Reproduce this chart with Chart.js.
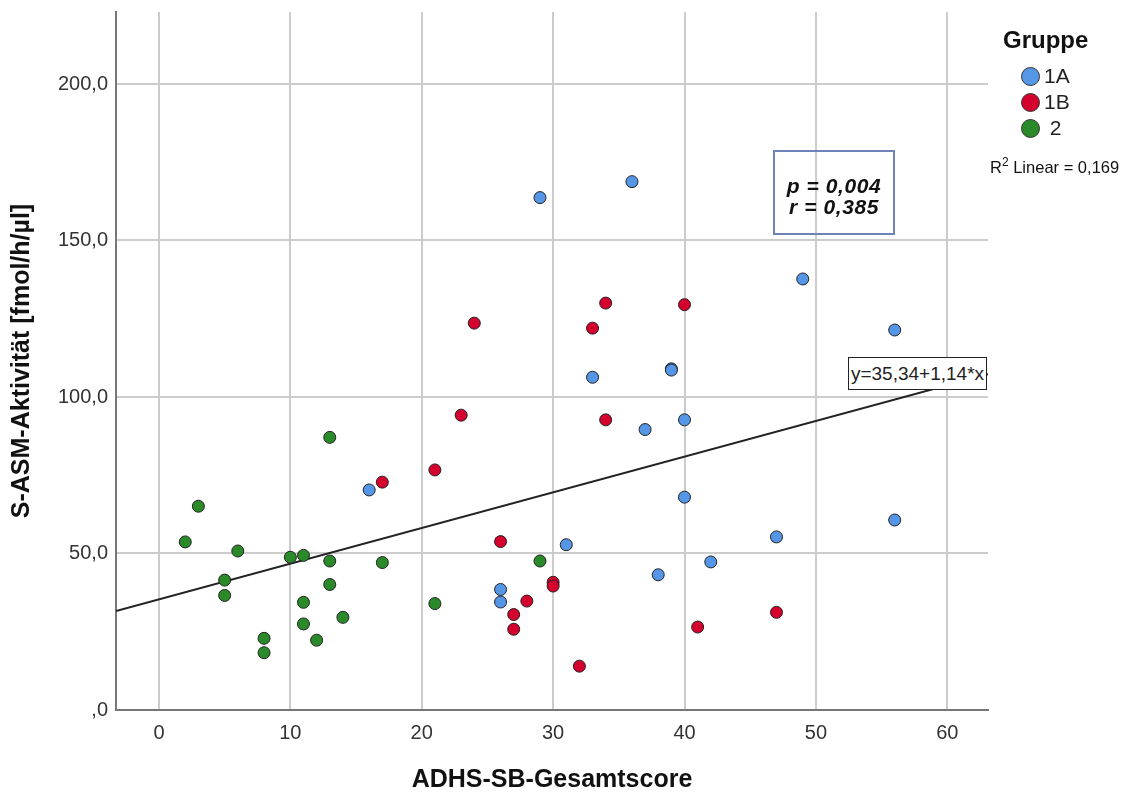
<!DOCTYPE html>
<html><head><meta charset="utf-8">
<script src="https://cdn.jsdelivr.net/npm/chart.js@4.4.1/dist/chart.umd.min.js"></script>
<style>
html,body{margin:0;padding:0;background:#fff;}
#wrap{position:relative;width:1131px;height:795px;overflow:hidden;font-family:"Liberation Sans",Arial,sans-serif;}
#c{position:absolute;left:0;top:0;}
.legtitle{position:absolute;left:1003px;top:26px;font-weight:bold;font-size:24px;color:#111;line-height:28px;}
.item{position:absolute;left:1021px;height:24px;font-size:21px;color:#222;display:flex;align-items:center;line-height:24px;}
.dot{width:19px;height:19px;border-radius:50%;border:1px solid #333;box-sizing:border-box;margin-right:4px;}
.r2{position:absolute;left:990px;top:156px;font-size:16.5px;color:#111;line-height:22px;white-space:nowrap;}
.r2 sup{font-size:12px;vertical-align:7px;line-height:0;}
.ann{position:absolute;left:773px;top:150px;width:122px;height:85px;box-sizing:border-box;border:2px solid #7083b8;
 display:flex;flex-direction:column;justify-content:center;align-items:center;padding-top:6px;
 font-weight:bold;font-style:italic;font-size:21px;letter-spacing:0.6px;line-height:21px;color:#111;}
.eq{position:absolute;left:848px;top:357px;width:139px;height:33px;box-sizing:border-box;border:1px solid #222;background:#fff;
 display:flex;align-items:center;justify-content:center;font-size:19px;color:#222;white-space:nowrap;}
</style>
</head><body>
<div id="wrap">
<canvas id="c" width="1131" height="795"></canvas>
<div class="legtitle">Gruppe</div>
<div class="item" style="top:64px"><span class="dot" style="background:#5596E6"></span>1A</div>
<div class="item" style="top:90px"><span class="dot" style="background:#D4002E"></span>1B</div>
<div class="item" style="top:116px"><span class="dot" style="background:#2A8A2A"></span>&nbsp;2</div>
<div class="r2">R<sup>2</sup> Linear = 0,169</div>
<div class="ann"><div>p = 0,004</div><div>r = 0,385</div></div>
<div class="eq">y=35,34+1,14*x</div>
</div>
<script>
// ---- data ----
const groupNames = ["1A", "1B", "2"];
const g1A_x = [29, 36, 49, 56, 33, 39, 39, 37, 40, 40, 56, 47, 31, 42, 38, 26, 26, 16];
const g1A_y = [163.7, 168.8, 137.7, 121.4, 106.3, 109, 108.6, 89.6, 92.7, 68, 60.7, 55.3, 52.8, 47.3, 43.2, 38.5, 34.5, 70.3];
const g1B_x = [34, 40, 24, 33, 23, 34, 21, 17, 26, 30, 30, 28, 27, 27, 47, 41, 32];
const g1B_y = [130, 129.5, 123.6, 122, 94.2, 92.7, 76.7, 72.8, 53.8, 40.8, 39.6, 34.8, 30.5, 25.8, 31.2, 26.5, 14];
const g2_x = [13, 3, 2, 6, 10, 11, 13, 17, 5, 13, 5, 11, 14, 11, 8, 12, 8, 21, 29];
const g2_y = [87.1, 65.1, 53.7, 50.8, 48.8, 49.4, 47.6, 47.1, 41.5, 40.1, 36.6, 34.4, 29.6, 27.5, 22.9, 22.3, 18.3, 34, 47.6];
const regIntercept = 35.34;
const regSlope = 1.14;
const xTicks = [0, 10, 20, 30, 40, 50, 60];
const yTicks = [0, 50, 100, 150, 200];
const yTickLabels = [",0", "50,0", "100,0", "150,0", "200,0"];
const xMin = -3.27, xMax = 63.1, yMin = 0, yMax = 223;

const colors = ["#5596E6", "#D4002E", "#2A8A2A"];
const toPts = (xs, ys) => xs.map((x, i) => ({x: x, y: ys[i]}));

const scatterStyle = (label, xs, ys, col) => ({
  type: 'scatter', label: label, data: toPts(xs, ys),
  backgroundColor: col, borderColor: '#222', borderWidth: 1,
  pointRadius: 6, pointHoverRadius: 6, order: 1
});

const FONT = '"Liberation Sans", Arial';

new Chart(document.getElementById('c'), {
  type: 'scatter',
  data: {
    datasets: [
      scatterStyle(groupNames[0], g1A_x, g1A_y, colors[0]),
      scatterStyle(groupNames[1], g1B_x, g1B_y, colors[1]),
      scatterStyle(groupNames[2], g2_x, g2_y, colors[2]),
      {
        type: 'line', label: 'Linear',
        data: [{x: xMin, y: regIntercept + regSlope * xMin}, {x: xMax, y: regIntercept + regSlope * xMax}],
        borderColor: '#222', borderWidth: 1.8, pointRadius: 0, fill: false, order: 5
      }
    ]
  },
  options: {
    responsive: false, animation: false, devicePixelRatio: 1,
    layout: {padding: {top: 0, right: 143, left: 0, bottom: 0}},
    plugins: {legend: {display: false}, tooltip: {enabled: false}},
    scales: {
      x: {
        type: 'linear', min: xMin, max: xMax,
        afterBuildTicks: s => { s.ticks = xTicks.map(v => ({value: v})); },
        afterFit: s => { s.height = 85; },
        ticks: {padding: 11, color: '#333', font: {family: FONT, size: 20}},
        grid: {color: '#cccccc', lineWidth: 2, drawTicks: false},
        border: {display: true, color: '#777', width: 2},
        title: {display: true, text: 'ADHS-SB-Gesamtscore', color: '#111',
          font: {family: FONT, size: 25, weight: 'bold'}, padding: {top: 0, bottom: 0}}
      },
      y: {
        type: 'linear', min: yMin, max: yMax,
        afterBuildTicks: s => { s.ticks = yTicks.map(v => ({value: v})); },
        afterFit: s => { s.width = 116; s.paddingTop = 12; },
        ticks: {padding: 8, color: '#333', font: {family: FONT, size: 20},
          callback: v => { const i = yTicks.indexOf(v); return i >= 0 ? yTickLabels[i] : ''; }},
        grid: {color: '#cccccc', lineWidth: 2, drawTicks: false},
        border: {display: true, color: '#777', width: 2},
        title: {display: true, text: 'S-ASM-Aktivität [fmol/h/µl]', color: '#111',
          font: {family: FONT, size: 25, weight: 'bold'}, padding: {top: 7, bottom: 0}}
      }
    }
  }
});
</script>
</body></html>
